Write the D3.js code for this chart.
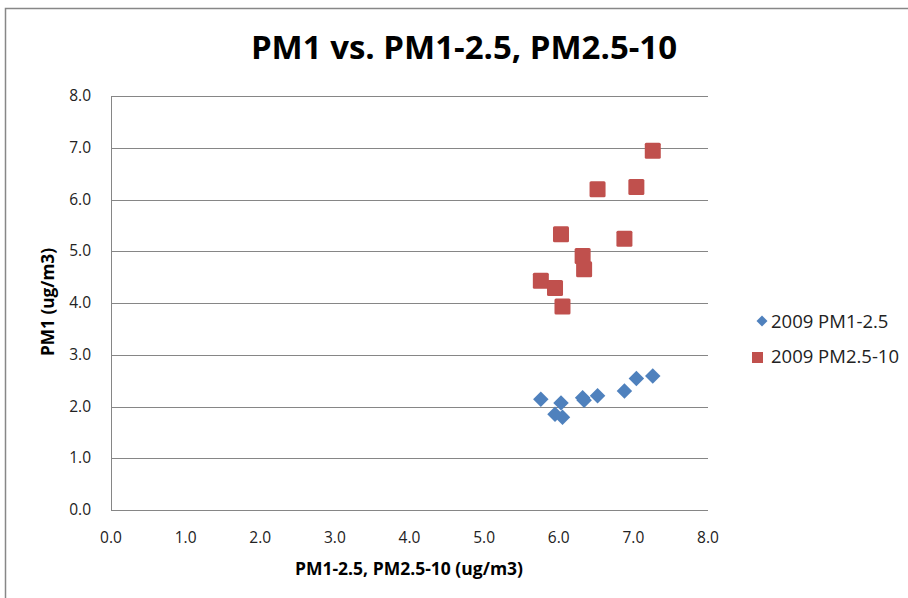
<!DOCTYPE html>
<html>
<head>
<meta charset="utf-8">
<script src="https://cdn.jsdelivr.net/npm/d3@7"></script>
<style>
  body { margin: 0; background: #fff; }
  text { font-family: "Open Sans", sans-serif; }
</style>
</head>
<body>
<script>
// x values shared by both series (ug/m3)
var xValues = [5.76, 5.95, 6.03, 6.05, 6.32, 6.34, 6.52, 6.88, 7.04, 7.26];
// PM1 paired with PM1-2.5
var pm1_25 = [2.14, 1.85, 2.07, 1.79, 2.17, 2.12, 2.21, 2.30, 2.54, 2.59];
// PM1 paired with PM2.5-10
var pm25_10 = [4.43, 4.29, 5.33, 3.93, 4.91, 4.65, 6.20, 5.24, 6.24, 6.94];
var tickValues = [0, 1, 2, 3, 4, 5, 6, 7, 8];
var seriesNames = ["2009 PM1-2.5", "2009 PM2.5-10"];
var seriesColors = ["#4F81BD", "#C0504D"];

var W = 908, H = 598;
var svg = d3.select("body").append("svg")
    .attr("width", W)
    .attr("height", H);

// chart frame
svg.append("rect")
    .attr("x", 5.5).attr("y", 8.5)
    .attr("width", 940).attr("height", 620)
    .attr("fill", "#fff")
    .attr("stroke", "#878787")
    .attr("stroke-width", 1.5);

var x = d3.scaleLinear().domain([0, 8]).range([111, 708]);
var y = d3.scaleLinear().domain([0, 8]).range([510, 96]);

// gridlines
svg.append("g")
    .selectAll("line")
    .data(tickValues)
  .enter().append("line")
    .attr("x1", x(0)).attr("x2", x(8))
    .attr("y1", function(d) { return Math.round(y(d)) + 0.5; })
    .attr("y2", function(d) { return Math.round(y(d)) + 0.5; })
    .attr("stroke", "#868686");

// y axis line
svg.append("line")
    .attr("x1", x(0) + 0.5).attr("x2", x(0) + 0.5)
    .attr("y1", y(8)).attr("y2", y(0))
    .attr("stroke", "#868686");

// tick labels
svg.append("g")
    .selectAll("text")
    .data(tickValues)
  .enter().append("text")
    .attr("x", 91)
    .attr("y", function(d) { return y(d) + 5; })
    .attr("text-anchor", "end")
    .attr("font-size", 15.5)
    .attr("fill", "#222")
    .text(function(d) { return d3.format(".1f")(d); });

svg.append("g")
    .selectAll("text")
    .data(tickValues)
  .enter().append("text")
    .attr("x", function(d) { return x(d); })
    .attr("y", 543)
    .attr("text-anchor", "middle")
    .attr("font-size", 15.5)
    .attr("fill", "#222")
    .text(function(d) { return d3.format(".1f")(d); });

// titles
svg.append("text")
    .attr("x", 464).attr("y", 59)
    .attr("text-anchor", "middle")
    .attr("font-size", 33)
    .attr("font-weight", "bold")
    .text("PM1 vs. PM1-2.5, PM2.5-10");

svg.append("text")
    .attr("x", 409).attr("y", 575)
    .attr("text-anchor", "middle")
    .attr("font-size", 17.5)
    .attr("font-weight", "bold")
    .text("PM1-2.5, PM2.5-10 (ug/m3)");

svg.append("text")
    .attr("transform", "translate(54,302) rotate(-90)")
    .attr("text-anchor", "middle")
    .attr("font-size", 18)
    .attr("font-weight", "bold")
    .attr("textLength", 108)
    .attr("lengthAdjust", "spacingAndGlyphs")
    .text("PM1 (ug/m3)");

// series
var diamond = d3.symbol().type(d3.symbolSquare).size(120);

svg.append("g")
    .selectAll("path")
    .data(xValues.map(function(v, i) { return [v, pm1_25[i]]; }))
  .enter().append("path")
    .attr("d", diamond)
    .attr("transform", function(d) { return "translate(" + x(d[0]) + "," + y(d[1]) + ") rotate(45)"; })
    .attr("fill", seriesColors[0]);

svg.append("g")
    .selectAll("rect")
    .data(xValues.map(function(v, i) { return [v, pm25_10[i]]; }))
  .enter().append("rect")
    .attr("x", function(d) { return x(d[0]) - 8; })
    .attr("y", function(d) { return y(d[1]) - 8; })
    .attr("width", 16).attr("height", 16)
    .attr("rx", 1.5)
    .attr("fill", seriesColors[1]);

// legend
var legend = svg.append("g");
legend.append("path")
    .attr("d", d3.symbol().type(d3.symbolSquare).size(60))
    .attr("transform", "translate(762,321) rotate(45)")
    .attr("fill", seriesColors[0]);
legend.append("rect")
    .attr("x", 752).attr("y", 352)
    .attr("width", 11).attr("height", 11)
    .attr("fill", seriesColors[1]);
legend.selectAll("text")
    .data(seriesNames)
  .enter().append("text")
    .attr("x", 771)
    .attr("y", function(d, i) { return 328 + i * 35; })
    .attr("font-size", 18.5)
    .attr("fill", "#222")
    .text(function(d) { return d; });
</script>
</body>
</html>
